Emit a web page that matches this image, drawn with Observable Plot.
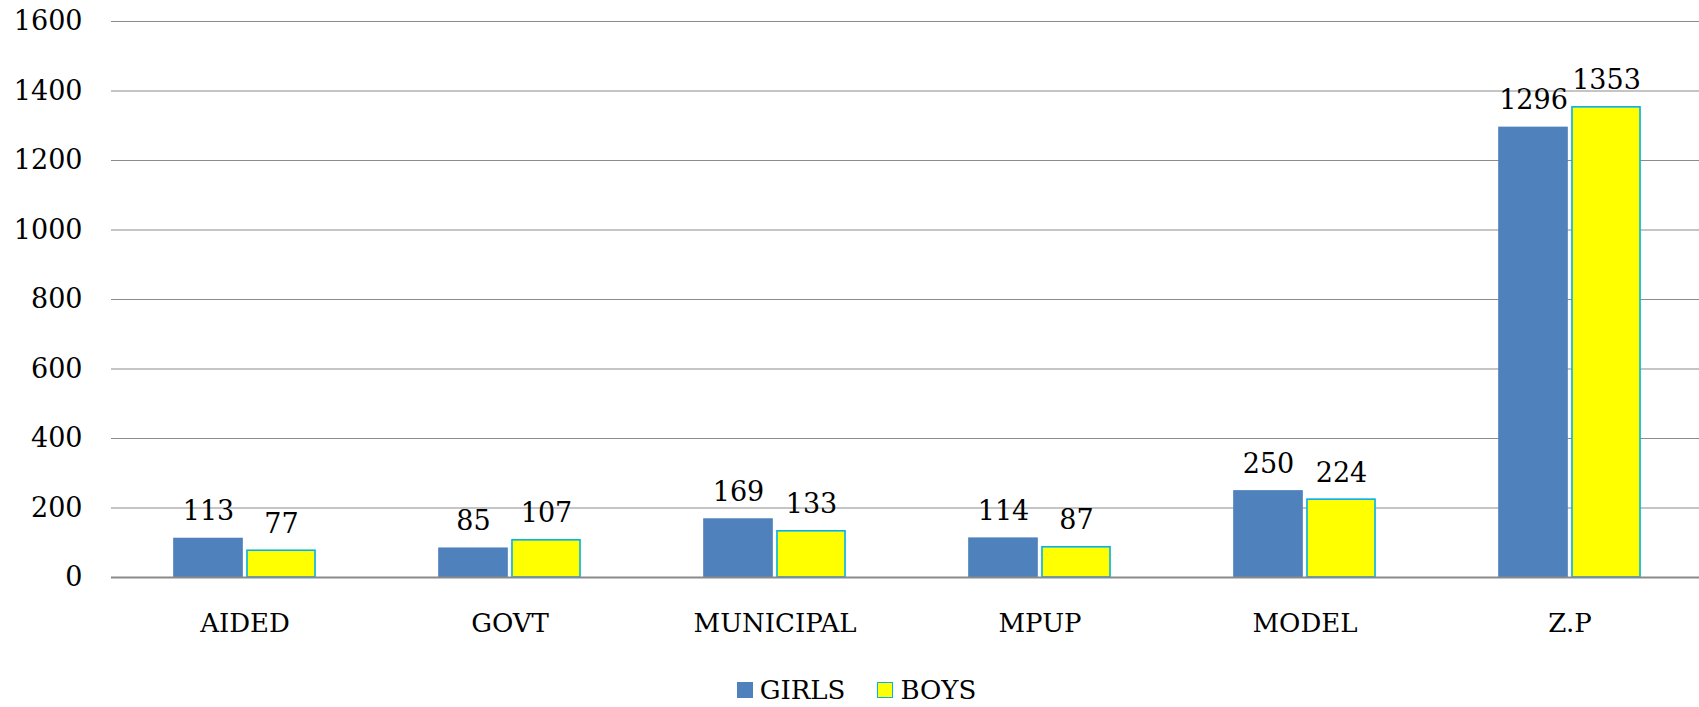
<!DOCTYPE html>
<html>
<head>
<meta charset="utf-8">
<script src="https://cdn.jsdelivr.net/npm/d3@7"></script>
<script src="https://cdn.jsdelivr.net/npm/@observablehq/plot@0.6"></script>
<style>
  body { margin: 0; background: #fff; }
  #chart svg { display: block; }
  #legend { display: flex; justify-content: center; align-items: center; box-sizing: border-box;
            height: 47px; padding-top: 12px; padding-left: 14px;
            font-family: "DejaVu Serif", serif; font-size: 26px; color: #000; }
  .item { display: flex; align-items: center; margin: 0 16px; }
  .sw { width: 16px; height: 16px; box-sizing: border-box; margin-right: 7px; }
</style>
</head>
<body>
<div id="chart"></div>
<div id="legend"></div>
<script>
const categories = ["AIDED", "GOVT", "MUNICIPAL", "MPUP", "MODEL", "Z.P"];
const girls = [113, 85, 169, 114, 250, 1296];
const boys = [77, 107, 133, 87, 224, 1353];
const series = ["GIRLS", "BOYS"];
const yTicks = [0, 200, 400, 600, 800, 1000, 1200, 1400, 1600];
const fills = ["#4F81BD", "#FFFF00"];
const strokes = ["none", "#00B0F0"];

const W = 1699, H = 660;
const mL = 111, mR = -4, mT = 21, mB = 83;
const step = (W - mL - mR) / categories.length;
const barW = 70, gap = 3;

const girlRows = categories.map((c, i) => ({category: c, value: girls[i]}));
const boyRows = categories.map((c, i) => ({category: c, value: boys[i]}));

const font = "DejaVu Serif";
const chart = Plot.plot({
  width: W,
  height: H,
  marginLeft: mL,
  marginRight: mR,
  marginTop: mT,
  marginBottom: mB,
  style: {fontFamily: font, fontSize: "27px", color: "#000", background: "#fff", overflow: "visible"},
  x: {type: "band", domain: categories, padding: 0},
  y: {domain: [0, 1600]},
  marks: [
    Plot.ruleY(yTicks.slice(1), {stroke: "#8c8c8c", strokeWidth: 1.2}),
    Plot.barY(girlRows, {
      x: "category", y: "value", fill: fills[0],
      insetLeft: step / 2 - gap / 2 - barW, insetRight: step / 2 + gap / 2
    }),
    Plot.barY(boyRows, {
      x: "category", y: "value", fill: fills[1], stroke: strokes[1], strokeWidth: 1.6,
      insetLeft: step / 2 + gap / 2 + 0.8, insetRight: step / 2 - gap / 2 - barW + 0.8
    }),
    Plot.ruleY([0], {stroke: "#8a8a8a", strokeWidth: 1.8}),
    Plot.text(girlRows, {
      x: "category", y: "value", text: d => String(d.value),
      dx: -(gap / 2 + barW / 2), dy: -18, lineAnchor: "bottom", fill: "#000"
    }),
    Plot.text(boyRows, {
      x: "category", y: "value", text: d => String(d.value),
      dx: gap / 2 + barW / 2, dy: -18, lineAnchor: "bottom", fill: "#000"
    }),
    Plot.axisY({ticks: yTicks, tickSize: 0, tickPadding: 29, tickFormat: d => String(d), label: null, fill: "#000"}),
    Plot.axisX({tickSize: 0, tickPadding: 36, label: null, fill: "#000", fontSize: 26})
  ]
});
document.getElementById("chart").appendChild(chart);

const legend = document.getElementById("legend");
series.forEach((s, i) => {
  const item = document.createElement("div");
  item.className = "item";
  const sw = document.createElement("div");
  sw.className = "sw";
  sw.style.background = fills[i];
  if (strokes[i] !== "none") sw.style.border = "1.5px solid " + strokes[i];
  const t = document.createElement("span");
  t.textContent = s;
  item.appendChild(sw);
  item.appendChild(t);
  legend.appendChild(item);
});
</script>
</body>
</html>
